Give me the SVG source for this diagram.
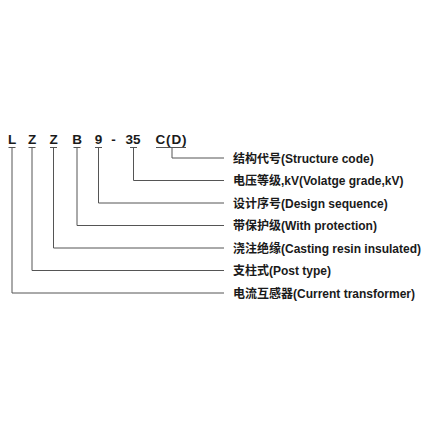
<svg xmlns="http://www.w3.org/2000/svg" width="435" height="435" viewBox="0 0 435 435">
<style>
.code{font-family:"Liberation Sans",Arial,sans-serif;font-weight:bold;font-size:13.5px;fill:#1a1a1a;text-anchor:middle}
.lbl{font-family:"Liberation Sans","Noto Sans CJK SC",sans-serif;font-weight:bold;font-size:12px;fill:#1a1a1a}
.ln{fill:none;stroke:#555;stroke-width:1}
</style>
<rect width="435" height="435" fill="#fff"/>
<g id="code">
<text class="code" x="12" y="143.5">L</text>
<text class="code" x="32" y="143.5">Z</text>
<text class="code" x="53.5" y="143.5">Z</text>
<text class="code" x="77" y="143.5">B</text>
<text class="code" x="98.5" y="143.5">9</text>
<text class="code" x="113.5" y="143.5">-</text>
<text class="code" x="133" y="143.5">35</text>
<text class="code" x="171" y="143.5" textLength="31" lengthAdjust="spacing">C(D)</text>
</g>
<g id="connectors">
<path class="ln" d="M8.5 147.5H15.5M12 147.5V293H224"/>
<path class="ln" d="M28.5 147.5H35.5M32 147.5V270.5H224"/>
<path class="ln" d="M50 147.5H57M53.5 147.5V248H224"/>
<path class="ln" d="M73.5 147.5H80.5M77 147.5V225.5H224"/>
<path class="ln" d="M95 147.5H102M98.5 147.5V203H224"/>
<path class="ln" d="M130 147.5H137M133.5 147.5V180.5H224"/>
<path class="ln" d="M156 147.5H186M172 147.5V158H224"/>
</g>
<g id="label-structure"><text class="lbl" x="233" y="162.5">结构代号(Structure code)</text></g>
<g id="label-voltage"><text class="lbl" x="233" y="185">电压等级,kV(Volatge grade,kV)</text></g>
<g id="label-design"><text class="lbl" x="233" y="207.5">设计序号(Design sequence)</text></g>
<g id="label-protection"><text class="lbl" x="233" y="230">带保护级(With protection)</text></g>
<g id="label-casting"><text class="lbl" x="233" y="252.5">浇注绝缘(Casting resin insulated)</text></g>
<g id="label-post"><text class="lbl" x="233" y="275">支柱式(Post type)</text></g>
<g id="label-current"><text class="lbl" x="233" y="297.5">电流互感器(Current transformer)</text></g>
</svg>
